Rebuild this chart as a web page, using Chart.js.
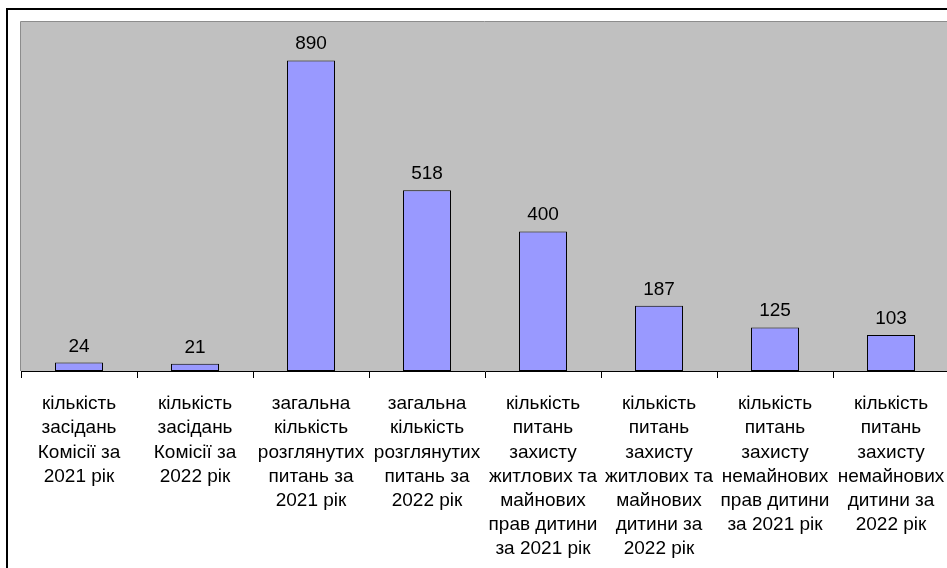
<!DOCTYPE html>
<html>
<head>
<meta charset="utf-8">
<script src="https://cdn.jsdelivr.net/npm/chart.js@4.4.0/dist/chart.umd.min.js"></script>
<style>
  html, body { margin: 0; padding: 0; background: #fff; overflow: hidden; }
  #wrap { position: relative; width: 960px; height: 580px; }
</style>
</head>
<body>
<div id="wrap"><canvas id="chart"></canvas></div>
<script>
// Кількість засідань та питань (2021 / 2022)
const categories = [
    ['кількість', 'засідань', 'Комісії за', '2021 рік'],
    ['кількість', 'засідань', 'Комісії за', '2022 рік'],
    ['загальна', 'кількість', 'розглянутих', 'питань за', '2021 рік'],
    ['загальна', 'кількість', 'розглянутих', 'питань за', '2022 рік'],
    ['кількість', 'питань', 'захисту', 'житлових та', 'майнових', 'прав дитини', 'за 2021 рік'],
    ['кількість', 'питань', 'захисту', 'житлових та', 'майнових', 'дитини за', '2022 рік'],
    ['кількість', 'питань', 'захисту', 'немайнових', 'прав дитини', 'за 2021 рік'],
    ['кількість', 'питань', 'захисту', 'немайнових', 'дитини за', '2022 рік']
];
const values = [24, 21, 890, 518, 400, 187, 125, 103];
const yMax = 1000;

const FONT = '"Liberation Sans", Arial, sans-serif';

// grey plot area + outer frame
const background = {
    id: 'background',
    beforeDraw(chart) {
        const { ctx, chartArea: a } = chart;
        ctx.save();
        ctx.strokeStyle = '#000';
        ctx.lineWidth = 2;
        ctx.strokeRect(7, 9, chart.width + 20, chart.height + 20);
        ctx.fillStyle = '#c0c0c0';
        ctx.fillRect(a.left, a.top, a.right - a.left, a.bottom - a.top);
        ctx.strokeStyle = '#8c8c8c';
        ctx.lineWidth = 1;
        ctx.beginPath();
        ctx.moveTo(a.left - 0.5, a.bottom);
        ctx.lineTo(a.left - 0.5, a.top - 0.5);
        ctx.lineTo(a.right, a.top - 0.5);
        ctx.stroke();
        ctx.restore();
    }
};

// value above each bar
const valueLabels = {
    id: 'valueLabels',
    afterDatasetsDraw(chart) {
        const { ctx } = chart;
        const meta = chart.getDatasetMeta(0);
        ctx.save();
        ctx.font = '19px ' + FONT;
        ctx.fillStyle = '#000';
        ctx.textAlign = 'center';
        ctx.textBaseline = 'alphabetic';
        meta.data.forEach((bar, i) => {
            ctx.fillText(values[i], bar.x, bar.y - 11);
        });
        ctx.restore();
    }
};

new Chart(document.getElementById('chart'), {
    type: 'bar',
    data: {
        labels: categories,
        datasets: [{
            data: values,
            backgroundColor: '#9999ff',
            borderColor: '#000',
            borderWidth: 1,
            borderSkipped: false,
            barPercentage: 0.414,
            categoryPercentage: 1
        }]
    },
    options: {
        responsive: true,
        maintainAspectRatio: false,
        animation: false,
        layout: { padding: { left: 21, top: 22, right: 11, bottom: 0 } },
        plugins: {
            legend: { display: false },
            tooltip: { enabled: false }
        },
        scales: {
            x: {
                afterFit(scale) { scale.height = 209; },
                grid: {
                    display: true,
                    drawOnChartArea: false,
                    drawTicks: true,
                    tickLength: 7,
                    color: '#000'
                },
                border: { display: true, color: '#000', width: 1 },
                ticks: {
                    autoSkip: false,
                    maxRotation: 0,
                    minRotation: 0,
                    padding: 14,
                    color: '#000',
                    font: { family: FONT, size: 19, lineHeight: 1.27 }
                }
            },
            y: {
                display: false,
                min: 0,
                max: yMax
            }
        }
    },
    plugins: [background, valueLabels]
});
</script>
</body>
</html>
